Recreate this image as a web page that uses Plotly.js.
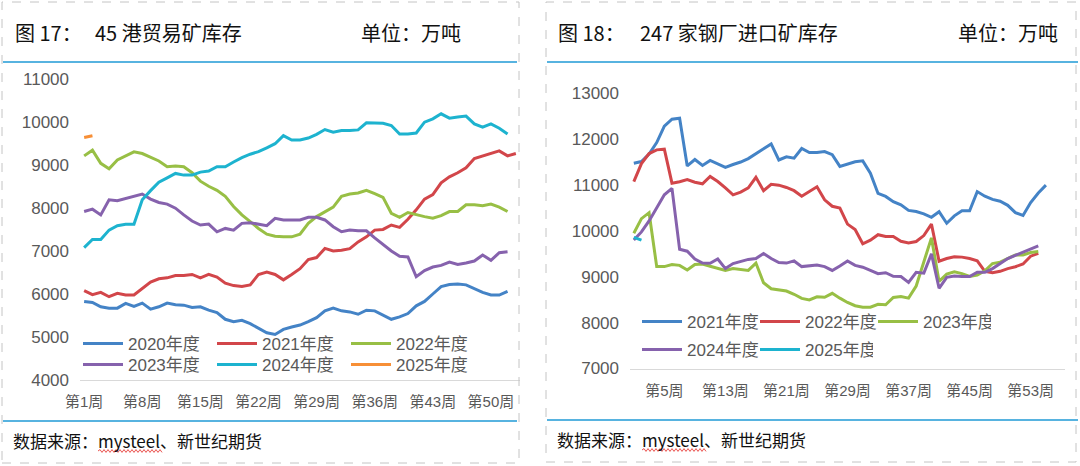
<!DOCTYPE html>
<html>
<head>
<meta charset="utf-8">
<script src="https://cdn.plot.ly/plotly-3.0.1.min.js"></script>
<style>
html,body{margin:0;padding:0;background:#ffffff;}
#chart{width:1080px;height:466px;}
</style>
</head>
<body>
<div id="chart"></div>
<script>
// ---------- Left panel: 45港贸易矿库存 (万吨) ----------
const leftWeeks = Array.from({length: 53}, (_, i) => '第' + (i + 1) + '周');
const leftTickLabels = ['第1周','第8周','第15周','第22周','第29周','第36周','第43周','第50周'];

const port2020 = [5827,5804,5702,5671,5671,5780,5710,5788,5647,5702,5788,5749,5741,5686,5702,5624,5569,5412,5357,5388,5310,5200,5098,5059,5176,5231,5278,5357,5451,5608,5671,5608,5584,5529,5624,5608,5514,5412,5467,5545,5725,5827,6000,6173,6220,6235,6212,6118,6039,5976,5976,6063];
const port2021 = [6078,5984,6039,5937,6016,5976,5976,6118,6275,6353,6376,6431,6431,6455,6376,6455,6392,6251,6196,6173,6212,6455,6510,6455,6329,6455,6588,6800,6847,7060,7000,7016,7055,7212,7329,7486,7502,7604,7549,7737,7957,8208,8310,8584,8725,8820,8937,9149,9212,9267,9329,9212,9267];
const port2022 = [9212,9345,9039,8914,9118,9212,9306,9267,9173,9094,8961,8976,8961,8820,8624,8506,8412,8271,8035,7839,7682,7525,7392,7345,7329,7329,7392,7643,7800,7918,8020,8271,8325,8349,8412,8333,8247,7878,7784,7894,7839,7800,7761,7824,7918,7918,8074,8074,8051,8090,8020,7918];
const port2023 = [7918,7973,7839,8192,8169,8216,8271,8325,8208,8129,8090,7996,7839,7698,7604,7627,7447,7525,7486,7643,7659,7627,7588,7761,7722,7722,7722,7784,7784,7722,7565,7447,7486,7471,7471,7306,7157,7000,6879,6863,6402,6544,6628,6665,6744,6688,6721,6767,6907,6784,6960,6984];
const port2024 = [7078,7267,7267,7486,7588,7620,7620,8192,8404,8600,8702,8804,8765,8765,8835,8859,8961,8961,9071,9173,9251,9310,9400,9495,9682,9580,9580,9627,9714,9824,9761,9800,9800,9816,9980,9980,9972,9918,9722,9722,9745,9996,10074,10190,10090,10114,10137,9957,9878,9957,9855,9722];
const port2025 = [9640,9680];

// ---------- Right panel: 247家钢厂进口矿库存 (万吨) ----------
const rightWeeks = Array.from({length: 57}, (_, i) => '第' + (i + 1) + '周');
const rightTickLabels = ['第5周','第13周','第21周','第29周','第37周','第45周','第53周'];

const mill2021 = [11480,11515,11680,11930,12290,12440,12462,11420,11560,11430,11540,11460,11390,11450,11505,11580,11690,11800,11900,11550,11620,11590,11800,11712,11712,11734,11665,11410,11465,11510,11530,11260,10820,10755,10640,10570,10450,10424,10375,10300,10420,10170,10330,10440,10440,10860,10760,10690,10650,10560,10400,10340,10620,10830,11000];
const mill2022 = [11079,11470,11690,11770,11785,11043,11075,11120,11065,11030,11190,11080,10940,10790,10850,10940,11170,10880,11020,11000,10950,10880,10760,10860,10965,10680,10540,10500,10150,10030,9720,9800,9920,9880,9880,9775,9740,9770,9900,10150,9340,9400,9440,9430,9400,9350,9120,9090,9120,9180,9220,9280,9450,9510];
const mill2023 = [9951,10270,10400,9223,9223,9270,9250,9150,9270,9280,9230,9180,9140,9180,9165,9140,9300,8870,8740,8714,8690,8620,8530,8496,8565,8554,8640,8535,8440,8370,8336,8336,8400,8390,8550,8569,8535,8800,9300,9850,8900,9060,9110,9070,9010,9040,9130,9290,9320,9400,9479,9479,9529,9551];
const mill2024 = [9805,9980,10220,10500,10790,10930,9600,9560,9390,9300,9296,9390,9180,9290,9340,9380,9400,9510,9400,9310,9300,9347,9223,9238,9260,9223,9140,9238,9347,9250,9210,9140,9070,9090,9010,9005,8880,9100,9080,9500,8750,8990,9020,9005,9005,9100,9100,9180,9300,9400,9470,9540,9620,9675];
const mill2025 = [9860,9800];

// ---------- colours ----------
const C_BLUE = '#4483c6', C_RED = '#d2464a', C_GREEN = '#98bf45', C_PURPLE = '#8662ad', C_CYAN = '#1db3cf', C_ORANGE = '#f78f36';

const W = 1080, H = 466;
const fx = x => x / W;
const fy = y => 1 - y / H;

function mk(name, cats, vals, color, xa, ya, legend) {
  return {
    type: 'scatter', mode: 'lines', name: name,
    x: cats.slice(0, vals.length), y: vals,
    xaxis: xa, yaxis: ya, legend: legend,
    line: {color: color, width: 3},
    hoverinfo: 'skip'
  };
}

const data = [
  mk('2020年度', leftWeeks, port2020, C_BLUE, 'x', 'y', 'legend'),
  mk('2021年度', leftWeeks, port2021, C_RED, 'x', 'y', 'legend'),
  mk('2022年度', leftWeeks, port2022, C_GREEN, 'x', 'y', 'legend'),
  mk('2023年度', leftWeeks, port2023, C_PURPLE, 'x', 'y', 'legend2'),
  mk('2024年度', leftWeeks, port2024, C_CYAN, 'x', 'y', 'legend2'),
  mk('2025年度', leftWeeks, port2025, C_ORANGE, 'x', 'y', 'legend2'),
  mk('2021年度', rightWeeks, mill2021, C_BLUE, 'x2', 'y2', 'legend3'),
  mk('2022年度', rightWeeks, mill2022, C_RED, 'x2', 'y2', 'legend3'),
  mk('2023年度', rightWeeks, mill2023, C_GREEN, 'x2', 'y2', 'legend3'),
  mk('2024年度', rightWeeks, mill2024, C_PURPLE, 'x2', 'y2', 'legend4'),
  mk('2025年度', rightWeeks, mill2025, C_CYAN, 'x2', 'y2', 'legend4')
];

const FONT = 'Liberation Sans, Arial, Noto Sans CJK SC, sans-serif';
const CJK = 'Noto Sans CJK SC, sans-serif';
const GREY = '#595959';

function xax(domain, cats, ticks, anchor) {
  return {
    domain: domain, anchor: anchor, type: 'category',
    categoryorder: 'array', categoryarray: cats,
    range: [-0.5, cats.length - 0.5],
    tickmode: 'array', tickvals: ticks, ticktext: ticks,
    showline: true, linecolor: '#d9d9d9', linewidth: 1,
    showgrid: false, zeroline: false, ticks: '',
    ticklabelstandoff: 8,
    tickfont: {family: FONT, size: 15, color: GREY},
    fixedrange: true
  };
}
function yax(domain, range, anchor) {
  return {
    domain: domain, anchor: anchor, range: range, dtick: 1000,
    tickmode: 'linear', tick0: range[0], tickformat: 'd',
    showline: false, showgrid: false, zeroline: false, ticks: '',
    ticklabelstandoff: 10,
    tickfont: {family: FONT, size: 17, color: GREY},
    fixedrange: true
  };
}
function leg(x, y, ew, iw) {
  return {
    orientation: 'h', x: fx(x), y: fy(y), xanchor: 'left', yanchor: 'middle',
    xref: 'paper', yref: 'paper',
    bgcolor: 'rgba(0,0,0,0)', borderwidth: 0,
    font: {family: FONT, size: 17, color: GREY},
    itemwidth: iw, entrywidth: ew, entrywidthmode: 'pixels',
    traceorder: 'normal', itemclick: false, itemdoubleclick: false
  };
}

function wave(x0, x1, y) {
  let d = 'M' + fx(x0) + ',' + fy(y);
  let up = true;
  for (let x = x0 + 2; x <= x1; x += 2) {
    d += ' L' + fx(x) + ',' + fy(y + (up ? -1.4 : 1.4));
    up = !up;
  }
  return d;
}

const shapes = [
  // dashed panel frames
  {type: 'rect', xref: 'paper', yref: 'paper', x0: fx(2), x1: fx(519), y0: fy(463), y1: fy(2), line: {color: '#c4c4c4', width: 1, dash: 'dash'}},
  {type: 'rect', xref: 'paper', yref: 'paper', x0: fx(546), x1: fx(1076), y0: fy(462), y1: fy(2), line: {color: '#c4c4c4', width: 1, dash: 'dash'}},
  // blue rules
  {type: 'line', xref: 'paper', yref: 'paper', x0: fx(3), x1: fx(517), y0: fy(62), y1: fy(62), line: {color: '#1f9ad6', width: 1.6}},
  {type: 'line', xref: 'paper', yref: 'paper', x0: fx(3), x1: fx(517), y0: fy(421), y1: fy(421), line: {color: '#1f9ad6', width: 1.6}},
  {type: 'line', xref: 'paper', yref: 'paper', x0: fx(547), x1: fx(1078), y0: fy(62), y1: fy(62), line: {color: '#1f9ad6', width: 1.6}},
  {type: 'line', xref: 'paper', yref: 'paper', x0: fx(547), x1: fx(1078), y0: fy(420), y1: fy(420), line: {color: '#1f9ad6', width: 1.6}},
  // spell-check underline
  {type: 'path', xref: 'paper', yref: 'paper', path: wave(98, 162, 451), line: {color: '#e8413c', width: 0.9}},
  {type: 'path', xref: 'paper', yref: 'paper', path: wave(642, 706, 450), line: {color: '#e8413c', width: 0.9}}
];

function txt(text, x, y, size, color, family) {
  return {text: text, xref: 'paper', yref: 'paper', x: fx(x), y: fy(y), xanchor: 'left', yanchor: 'middle',
    showarrow: false, font: {family: family || CJK, size: size, color: color || '#111111'}};
}

const annotations = [
  txt('图 17：', 13, 32, 20),
  txt('45 港贸易矿库存', 93, 32, 20),
  txt('单位：万吨', 359, 32, 20),
  txt('数据来源：mysteel、新世纪期货', 11, 440, 17),
  txt('图 18：', 556, 32, 20),
  txt('247 家钢厂进口矿库存', 638, 32, 20),
  txt('单位：万吨', 956, 32, 20),
  txt('数据来源：mysteel、新世纪期货', 555, 439, 17)
];

const layout = {
  width: W, height: H,
  margin: {l: 0, r: 0, t: 0, b: 0, pad: 0},
  paper_bgcolor: '#ffffff', plot_bgcolor: 'rgba(0,0,0,0)',
  font: {family: FONT, color: GREY},
  showlegend: true,
  xaxis: xax([fx(80), fx(520)], leftWeeks, leftTickLabels, 'y'),
  yaxis: yax([fy(380), fy(79)], [4000, 11000], 'x'),
  xaxis2: xax([fx(630), fx(1065)], rightWeeks, rightTickLabels, 'y2'),
  yaxis2: yax([fy(368.5), fy(93.5)], [7000, 13000], 'x2'),
  legend: leg(78, 344, 79, 40),
  legend2: leg(78, 365, 79, 40),
  legend3: leg(637, 322, 63, 40),
  legend4: leg(637, 350, 63, 40),
  shapes: shapes,
  annotations: annotations
};

Plotly.newPlot('chart', data, layout, {staticPlot: true, displayModeBar: false});
</script>
</body>
</html>
